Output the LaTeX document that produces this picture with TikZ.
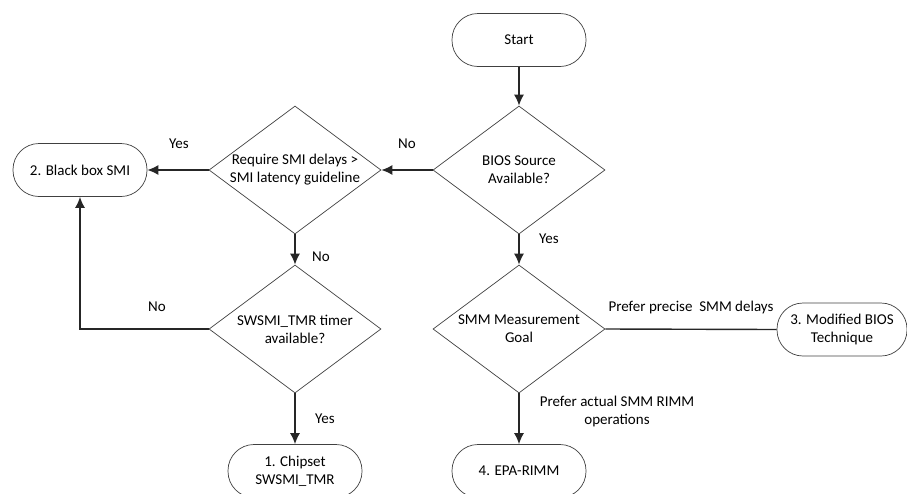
\documentclass[tikz,border=0pt]{standalone}
\usepackage{fontspec}
\setmainfont{Carlito}
\usetikzlibrary{arrows.meta,shapes.geometric}

\begin{document}
\begin{tikzpicture}[x=1pt,y=-1pt,>={Latex[length=11pt,width=10pt]},
  every node/.style={font=\fontsize{15}{18}\selectfont},
  term/.style={draw=black!75,line width=0.7pt,rectangle,rounded corners=26pt,
    minimum width=134pt,minimum height=53pt,align=center},
  dec/.style={draw=black!75,line width=0.7pt,diamond,inner xsep=-20pt,inner ysep=-6pt,
    minimum width=172pt,minimum height=128pt,align=center},
  conn/.style={line width=1.4pt,black!85},
  lbl/.style={inner sep=0pt}]
\useasboundingbox (0,0) rectangle (907,493);
\def\colL{295}
\def\colR{519}
% terminals
\node[term] (start) at (\colR,40) {Start};
\node[term] (blackbox) at (80,170) {2. Black box SMI};
\node[term,minimum width=130pt] (modbios) at (842,329.5) {3. Modified BIOS\\Technique};
\node[term] (chipset) at (\colL,471) {1. Chipset\\SWSMI\_TMR};
\node[term] (epa) at (\colR,471) {4. EPA-RIMM};
% decisions
\node[dec] (bios) at (\colR,170) {BIOS Source\\Available?};
\node[dec] (require) at (\colL,170) {Require SMI delays >\\SMI latency guideline};
\node[dec] (swsmi) at (\colL,329) {SWSMI\_TMR timer\\available?};
\node[dec] (goal) at (\colR,329) {SMM Measurement\\Goal};
% connectors
\draw[conn,->] (start) -- (bios);
\draw[conn,->] (bios) -- (require);
\draw[conn,->] (require) -- (blackbox);
\draw[conn,->] (require) -- (swsmi);
\draw[conn,->] (swsmi.west) -| (blackbox.south);
\draw[conn,->] (swsmi) -- (chipset);
\draw[conn,->] (bios) -- (goal);
\draw[conn] (goal.east) -- (modbios.west);
\draw[conn,->] (goal) -- (epa);
% labels
\node[lbl] (yes1) at (179,144) {Yes};
\node[lbl] (no1) at (407,144) {No};
\node[lbl] (no2) at (321,257) {No};
\node[lbl] (no3) at (157,307) {No};
\node[lbl] (yes2) at (325,419) {Yes};
\node[lbl] (yes3) at (549,239) {Yes};
\node[lbl] (precise) at (691,307) {Prefer precise\ \ SMM delays};
\node[lbl,align=center] (actual) at (617,411) {Prefer actual SMM RIMM\\operations};
\end{tikzpicture}
\end{document}
